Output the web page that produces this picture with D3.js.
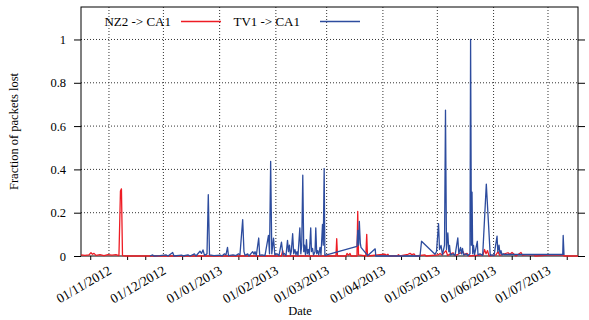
<!DOCTYPE html>
<html>
<head>
<meta charset="utf-8">
<script src="https://cdn.jsdelivr.net/npm/d3@7"></script>
<style>
  body { margin: 0; background: #fff; }
  svg { font-family: "Liberation Serif", "Times New Roman", serif; }
</style>
</head>
<body>
<div id="chart"></div>
<script>
// series names + colours, legend order
var seriesNames = ["NZ2 -> CA1", "TV1 -> CA1"]
var seriesColors = ["#ee1c24", "#2d4c9e"]

var yTicks = [0, 0.2, 0.4, 0.6, 0.8, 1]
var monthTicks = ["2012-11-01", "2012-12-01", "2013-01-01", "2013-02-01", "2013-03-01",
                  "2013-04-01", "2013-05-01", "2013-06-01", "2013-07-01"]
var xDomain = ["2012-10-16 14", "2013-07-17 13"]

// [date hour, fraction lost]
var nz2 = [
  ["2012-10-16 14", 0.005], ["2012-10-18 18", 0.003], ["2012-10-20 23", 0.005], ["2012-10-22 02", 0.015],
  ["2012-10-22 22", 0.008], ["2012-10-23 18", 0.012], ["2012-10-24 20", 0.003], ["2012-10-27 01", 0.006],
  ["2012-10-29 06", 0.002], ["2012-10-31 11", 0.006], ["2012-11-02 16", 0.004], ["2012-11-04 21", 0.006],
  ["2012-11-06 12", 0.002], ["2012-11-07 08", 0.30], ["2012-11-07 21", 0.31], ["2012-11-08 11", 0.002],
  ["2012-11-10 09", 0], ["2013-02-04 02", 0], ["2013-02-04 18", 0.025], ["2013-02-05 09", 0],
  ["2013-03-06 03", 0], ["2013-03-06 13", 0.08], ["2013-03-06 23", 0], ["2013-03-11 16", 0],
  ["2013-03-12 05", 0.012], ["2013-03-13 01", 0.004], ["2013-03-13 21", 0.012], ["2013-03-14 10", 0],
  ["2013-03-17 17", 0], ["2013-03-18 03", 0.206], ["2013-03-18 13", 0.005], ["2013-03-22 14", 0],
  ["2013-03-23 02", 0.10], ["2013-03-23 12", 0], ["2013-04-02 04", 0.008], ["2013-04-03 00", 0.003],
  ["2013-04-03 19", 0.008], ["2013-04-04 09", 0], ["2013-04-08 18", 0], ["2013-04-09 14", 0.006],
  ["2013-04-10 10", 0], ["2013-04-14 20", 0.008], ["2013-04-15 23", 0.012], ["2013-04-17 01", 0.006],
  ["2013-04-18 04", 0.01], ["2013-04-19 00", 0], ["2013-04-24 05", 0.005], ["2013-04-24 18", 0],
  ["2013-05-01 09", 0.005], ["2013-05-02 12", 0.012], ["2013-05-03 14", 0.004], ["2013-05-05 19", 0.025],
  ["2013-05-06 15", 0.003], ["2013-05-09 16", 0.015], ["2013-05-10 11", 0.002], ["2013-05-12 10", 0.008],
  ["2013-05-14 01", 0.015], ["2013-05-15 04", 0.02], ["2013-05-16 00", 0.005], ["2013-05-17 09", 0.012],
  ["2013-05-18 11", 0], ["2013-05-26 05", 0.005], ["2013-05-27 00", 0.03], ["2013-05-27 20", 0.01],
  ["2013-05-28 16", 0.025], ["2013-05-29 12", 0], ["2013-06-02 08", 0.005], ["2013-06-03 11", 0.02],
  ["2013-06-04 07", 0.003], ["2013-06-08 23", 0.015], ["2013-06-10 02", 0.008], ["2013-06-11 04", 0.016],
  ["2013-06-12 07", 0.008], ["2013-06-13 09", 0], ["2013-06-16 03", 0.016], ["2013-06-16 23", 0.003],
  ["2013-06-19 11", 0.006], ["2013-06-23 07", 0.005], ["2013-06-23 20", 0], ["2013-07-01 00", 0.004],
  ["2013-07-09 07", 0.005], ["2013-07-09 20", 0], ["2013-07-17 13", 0]
]

var tv1 = [
  ["2012-11-23 14", 0], ["2012-11-25 02", 0.005], ["2012-11-25 19", 0], ["2012-11-29 03", 0.002],
  ["2012-12-02 10", 0.005], ["2012-12-03 13", 0], ["2012-12-06 03", 0.016], ["2012-12-06 20", 0],
  ["2012-12-11 02", 0.004], ["2012-12-11 19", 0], ["2012-12-14 13", 0.005], ["2012-12-15 16", 0],
  ["2012-12-18 03", 0.01], ["2012-12-18 23", 0], ["2012-12-21 04", 0.022], ["2012-12-22 00", 0.012],
  ["2012-12-22 20", 0.028], ["2012-12-23 16", 0.003], ["2012-12-25 01", 0.01], ["2012-12-25 18", 0.283],
  ["2012-12-26 10", 0.005], ["2012-12-28 21", 0.002], ["2013-01-01 09", 0.004], ["2013-01-02 07", 0],
  ["2013-01-03 16", 0.01], ["2013-01-04 12", 0.005], ["2013-01-05 08", 0.04], ["2013-01-05 21", 0.002],
  ["2013-01-08 09", 0.005], ["2013-01-10 00", 0.002], ["2013-01-11 09", 0.01], ["2013-01-12 05", 0.005],
  ["2013-01-13 17", 0.168], ["2013-01-14 10", 0.02], ["2013-01-15 00", 0.003], ["2013-01-16 11", 0.01],
  ["2013-01-17 04", 0], ["2013-01-19 05", 0.02], ["2013-01-19 23", 0.008], ["2013-01-20 12", 0.02],
  ["2013-01-21 05", 0.002], ["2013-01-22 13", 0.083], ["2013-01-23 02", 0.003], ["2013-01-24 08", 0.005],
  ["2013-01-26 00", 0.002], ["2013-01-27 22", 0.095], ["2013-01-28 12", 0.01], ["2013-01-29 03", 0.437],
  ["2013-01-29 18", 0.01], ["2013-01-30 17", 0.083], ["2013-01-31 10", 0.005], ["2013-02-01 15", 0.01],
  ["2013-02-02 17", 0.002], ["2013-02-04 02", 0.064], ["2013-02-04 22", 0.005], ["2013-02-05 15", 0.012],
  ["2013-02-06 14", 0.002], ["2013-02-07 10", 0.072], ["2013-02-07 23", 0.02], ["2013-02-08 12", 0.05],
  ["2013-02-09 01", 0.005], ["2013-02-09 12", 0.02], ["2013-02-10 06", 0.103], ["2013-02-10 20", 0.01],
  ["2013-02-11 13", 0.03], ["2013-02-12 02", 0.005], ["2013-02-12 15", 0.02], ["2013-02-13 05", 0.003],
  ["2013-02-14 05", 0.13], ["2013-02-14 18", 0.01], ["2013-02-15 06", 0.05], ["2013-02-15 20", 0.373],
  ["2013-02-16 09", 0.02], ["2013-02-16 19", 0.05], ["2013-02-17 08", 0.005], ["2013-02-17 21", 0.075],
  ["2013-02-18 08", 0.01], ["2013-02-18 21", 0.03], ["2013-02-19 10", 0.005], ["2013-02-20 05", 0.13],
  ["2013-02-20 15", 0.02], ["2013-02-21 05", 0.035], ["2013-02-21 18", 0.005], ["2013-02-22 14", 0.02],
  ["2013-02-23 00", 0.13], ["2013-02-23 12", 0.01], ["2013-02-24 01", 0.025], ["2013-02-24 15", 0.005],
  ["2013-02-25 08", 0.04], ["2013-02-25 21", 0.005], ["2013-02-26 17", 0.146], ["2013-02-27 03", 0.05],
  ["2013-02-27 15", 0.404], ["2013-02-28 00", 0.003],
  ["2013-03-17 17", 0.045], ["2013-03-18 04", 0.118], ["2013-03-18 15", 0.05], ["2013-03-19 00", 0.16],
  ["2013-03-19 13", 0.06], ["2013-03-19 22", 0.04], ["2013-03-23 16", 0.002], ["2013-03-27 18", 0.033],
  ["2013-03-28 02", 0], ["2013-04-21 11", 0], ["2013-04-22 07", 0.068], ["2013-04-29 17", 0.008],
  ["2013-04-30 13", 0.02], ["2013-05-01 16", 0.149], ["2013-05-02 05", 0.03], ["2013-05-03 01", 0.049],
  ["2013-05-03 20", 0.005], ["2013-05-04 23", 0.05], ["2013-05-05 12", 0.674], ["2013-05-06 01", 0.03],
  ["2013-05-06 19", 0.107], ["2013-05-07 08", 0.02], ["2013-05-07 17", 0.049], ["2013-05-08 06", 0.005],
  ["2013-05-09 16", 0.01], ["2013-05-10 18", 0.002], ["2013-05-12 07", 0.084], ["2013-05-12 20", 0.01],
  ["2013-05-13 19", 0.04], ["2013-05-14 08", 0.01], ["2013-05-14 21", 0.035], ["2013-05-15 10", 0.005],
  ["2013-05-16 19", 0.01], ["2013-05-17 22", 0.002], ["2013-05-19 00", 0.01], ["2013-05-19 08", 1.0],
  ["2013-05-19 19", 0.05], ["2013-05-20 03", 0.295], ["2013-05-20 12", 0.01], ["2013-05-20 23", 0.049],
  ["2013-05-21 12", 0.005], ["2013-05-23 01", 0.068], ["2013-05-23 10", 0.005], ["2013-05-24 13", 0.01],
  ["2013-05-26 00", 0.003], ["2013-05-28 00", 0.332], ["2013-05-30 04", 0.003], ["2013-05-31 03", 0.005],
  ["2013-06-01 06", 0.002], ["2013-06-02 22", 0.092], ["2013-06-03 08", 0.02], ["2013-06-04 00", 0.05],
  ["2013-06-04 13", 0.01], ["2013-06-05 02", 0.025], ["2013-06-05 16", 0.005], ["2013-06-06 09", 0.01],
  ["2013-06-06 18", 0.007], ["2013-07-09 03", 0.007], ["2013-07-09 09", 0.095], ["2013-07-09 20", 0.005]
]

;(function () {

  var margin = { top: 7, right: 11, bottom: 64, left: 81 }

  var width = 589 - margin.left - margin.right,
      height = 320 - margin.top - margin.bottom

  var parseHour = d3.timeParse("%Y-%m-%d %H"),
      parseDay = d3.timeParse("%Y-%m-%d"),
      fmt = d3.timeFormat("%d/%m/%Y")

  var svg = d3.select("#chart").append("svg")
    .attr("width", width + margin.left + margin.right)
    .attr("height", height + margin.top + margin.bottom)
    .append("g")
    .attr("transform", "translate(" + margin.left + "," + margin.top + ")")

  var xPositionScale = d3.scaleTime()
    .domain(xDomain.map(parseHour))
    .range([0, width])

  var yPositionScale = d3.scaleLinear()
    .domain([0, 1.15])
    .range([height, 0])

  var months = monthTicks.map(parseDay)

  // minor ticks: thirds of every month step, one step past each end
  var minor = []
  var steps = [[d3.timeMonth.offset(months[0], -1), months[0]]]
  for (var i = 0; i < months.length - 1; i++) steps.push([months[i], months[i + 1]])
  steps.push([months[months.length - 1], d3.timeMonth.offset(months[months.length - 1], 1)])
  steps.forEach(function (s) {
    var span = s[1] - s[0]
    minor.push(new Date(+s[0] + span / 3), new Date(+s[0] + 2 * span / 3))
  })
  minor = minor.filter(function (d) {
    return d >= xPositionScale.domain()[0] && d <= xPositionScale.domain()[1]
  })

  // grid
  svg.append("g").selectAll("line.gx")
    .data(months).enter().append("line")
    .attr("x1", function (d) { return xPositionScale(d) })
    .attr("x2", function (d) { return xPositionScale(d) })
    .attr("y1", 0).attr("y2", height)
    .attr("stroke", "#333").attr("stroke-width", 1)
    .attr("stroke-dasharray", "1,2")

  svg.append("g").selectAll("line.gy")
    .data(yTicks.filter(function (d) { return d > 0 })).enter().append("line")
    .attr("x1", 0).attr("x2", width)
    .attr("y1", function (d) { return yPositionScale(d) })
    .attr("y2", function (d) { return yPositionScale(d) })
    .attr("stroke", "#333").attr("stroke-width", 1)
    .attr("stroke-dasharray", "1,2")

  // axes
  var yAxis = d3.axisLeft(yPositionScale)
    .tickValues(yTicks).tickSize(7).tickPadding(8)
    .tickFormat(d3.format("~g"))
  svg.append("g")
    .attr("class", "axis y-axis")
    .call(yAxis)

  var yAxisRight = d3.axisRight(yPositionScale)
    .tickValues(yTicks).tickSize(7).tickFormat("")
  svg.append("g")
    .attr("class", "axis y-axis")
    .attr("transform", "translate(" + width + ",0)")
    .call(yAxisRight)

  var xMinor = d3.axisBottom(xPositionScale)
    .tickValues(minor).tickSize(4).tickFormat("")
  svg.append("g")
    .attr("class", "axis x-axis")
    .attr("transform", "translate(0," + height + ")")
    .call(xMinor)

  var xAxis = d3.axisBottom(xPositionScale)
    .tickValues(months).tickSize(0).tickFormat(fmt)
  svg.append("g")
    .attr("class", "axis x-axis labels")
    .attr("transform", "translate(0," + height + ")")
    .call(xAxis)

  svg.selectAll(".axis path.domain").remove()
  svg.selectAll(".axis line").attr("stroke", "#000")
  svg.selectAll(".axis text")
    .attr("font-family", "Liberation Serif")
    .attr("font-size", 12.5)
    .attr("fill", "#000")

  svg.selectAll(".x-axis.labels text")
    .attr("font-size", 13.5)
    .attr("text-anchor", "end")
    .attr("dy", null)
    .attr("y", 0)
    .attr("transform", "translate(3,17) rotate(-30)")

  // frame
  svg.append("rect")
    .attr("width", width).attr("height", height)
    .attr("fill", "none").attr("stroke", "#000").attr("stroke-width", 1)

  // data
  var line = d3.line()
    .x(function (d) { return xPositionScale(parseHour(d[0])) })
    .y(function (d) { return yPositionScale(d[1]) })

  ;[nz2, tv1].forEach(function (series, i) {
    svg.append("path")
      .datum(series)
      .attr("d", line)
      .attr("fill", "none")
      .attr("stroke", seriesColors[i])
      .attr("stroke-width", 1.3)
      .attr("stroke-linejoin", "round")
  })

  // legend
  var legendText = [90, 219], legendLine = [100, 239]
  seriesNames.forEach(function (name, i) {
    svg.append("text")
      .attr("x", legendText[i]).attr("y", 19)
      .attr("text-anchor", "end")
      .attr("font-size", 13)
      .text(name)
    svg.append("line")
      .attr("x1", legendLine[i]).attr("x2", legendLine[i] + 40)
      .attr("y1", 14.5).attr("y2", 14.5)
      .attr("stroke", seriesColors[i]).attr("stroke-width", 1.3)
  })

  // axis titles
  svg.append("text")
    .attr("x", 219).attr("y", height + 59)
    .attr("text-anchor", "middle")
    .attr("font-size", 12.5)
    .text("Date")

  svg.append("text")
    .attr("transform", "translate(-63," + (height / 2) + ") rotate(-90)")
    .attr("text-anchor", "middle")
    .attr("font-size", 12.5)
    .text("Fraction of packets lost")

})()
</script>
</body>
</html>
